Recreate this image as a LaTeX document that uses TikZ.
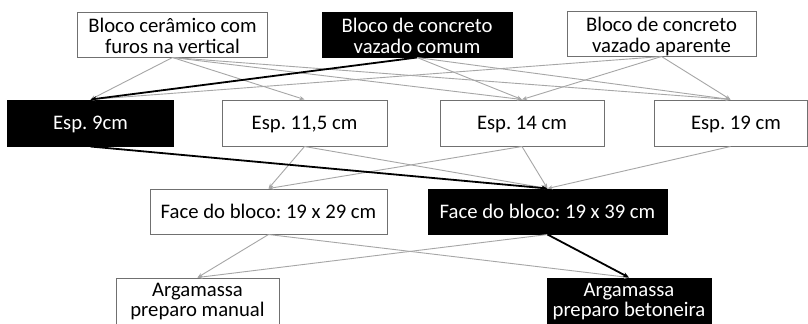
\documentclass[tikz,border=0pt]{standalone}
\usepackage{fontspec}
\setmainfont{Carlito}
\frenchspacing
\usetikzlibrary{arrows.meta}
\definecolor{edgegray}{HTML}{A6A6A6}
\definecolor{boxgray}{HTML}{707070}
\begin{document}
\begin{tikzpicture}[x=1bp,y=-1bp,
  box/.style={draw=boxgray, line width=1bp, fill=white, text=black, inner sep=0pt, align=center,
    font=\frenchspacing\fontsize{20.7bp}{20.7bp}\selectfont},
  darkbox/.style={box, draw=black, fill=black, text=white},
  oneline/.style={text height=13.3bp, text depth=0bp},
  twoline/.style={text height=37.6bp, text depth=0bp},
  lowtwo/.style={text height=29.6bp, text depth=0bp},
  lite/.style={draw=edgegray, line width=0.9bp, -{Stealth[length=5bp,width=4bp]}},
  heavy/.style={draw=black, line width=1.8bp, -{Stealth[length=6bp,width=5bp]}}]
\clip (0,0) rectangle (808,323);
\fill[white] (0,0) rectangle (808,323);
% top row
\node[box, twoline, minimum width=189bp, minimum height=45bp] (a) at (172.5,34.5) {Bloco cerâmico com\\furos na vertical};
\node[darkbox, twoline, minimum width=190bp, minimum height=45bp] (b) at (417,34.5) {Bloco de concreto\\vazado comum};
\node[box, twoline, minimum width=189bp, minimum height=45bp] (c) at (661.5,33.5) {Bloco de concreto\\vazado aparente};
% thickness row
\node[darkbox, oneline, minimum width=165bp, minimum height=46bp] (e9) at (90.5,123) {Esp. 9cm};
\node[box, oneline, minimum width=165bp, minimum height=46bp] (e11) at (304.5,123) {Esp. 11,5 cm};
\node[box, oneline, minimum width=164bp, minimum height=46bp] (e14) at (522,123) {Esp. 14 cm};
\node[box, oneline, minimum width=153bp, minimum height=46bp] (e19) at (730.5,123) {\hspace*{11bp}Esp. 19 cm};
% face row
\node[box, oneline, minimum width=237bp, minimum height=45bp] (f29) at (268.5,211.5) {Face do bloco: 19 x 29 cm};
\node[darkbox, oneline, minimum width=239bp, minimum height=45bp] (f39) at (547.5,211.5) {Face do bloco: 19 x 39 cm};
% mortar row
\node[box, lowtwo, minimum width=163bp, minimum height=48bp] (m) at (197.5,302) {Argamassa\\preparo manual};
\node[darkbox, lowtwo, minimum width=164bp, minimum height=48bp] (bt) at (629,302) {Argamassa\\preparo betoneira};
% light connectors
\draw[lite] (a.south) -- (e9.north);
\draw[lite] (a.south) -- (e11.north);
\draw[lite] (a.south) -- (e14.north);
\draw[lite] (a.south) -- (e19.north);
\draw[lite] (b.south) -- (e14.north);
\draw[lite] (b.south) -- (e19.north);
\draw[lite] (c.south) -- (e9.north);
\draw[lite] (c.south) -- (e14.north);
\draw[lite] (c.south) -- (e19.north);
\draw[lite] (e11.south) -- (f29.north);
\draw[lite] (e11.south) -- (f39.north);
\draw[lite] (e14.south) -- (f29.north);
\draw[lite] (e14.south) -- (f39.north);
\draw[lite] (e19.south) -- (f39.north);
\draw[lite] (f29.south) -- (m.north);
\draw[lite] (f29.south) -- (bt.north);
\draw[lite] (f39.south) -- (m.north);
% highlighted path
\draw[heavy] (b.south) -- (e9.north);
\draw[heavy] (e9.south) -- (f39.north);
\draw[heavy] (f39.south) -- (bt.north);
\end{tikzpicture}
\end{document}
